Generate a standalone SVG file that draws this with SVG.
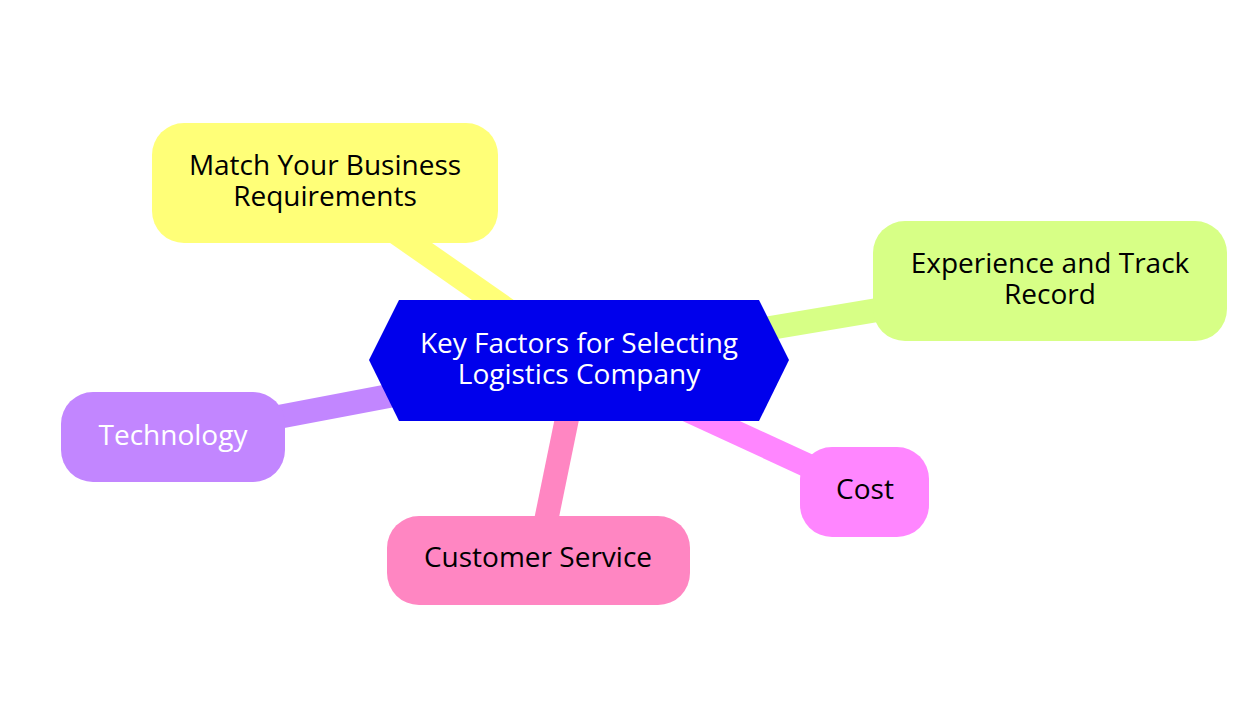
<svg xmlns="http://www.w3.org/2000/svg" width="1254" height="716" viewBox="0 0 1254 716">
<style>
  .edge { stroke-width: 24; stroke-linecap: butt; fill: none; }
  .lbl { font-family: "Open Sans", "Noto Sans", sans-serif; font-size: 28px; text-anchor: middle; fill: #000000; }
  .white { fill: #ffffff; }
</style>
<rect width="1254" height="716" fill="#ffffff"/>
<g id="connectors">
  <line class="edge" stroke="#FFFF78" x1="579" y1="360" x2="325" y2="183"/>
  <line class="edge" stroke="#D7FF86" x1="579" y1="360" x2="1050" y2="281"/>
  <line class="edge" stroke="#C286FF" x1="579" y1="360" x2="173" y2="437"/>
  <line class="edge" stroke="#FF86C2" x1="579" y1="360" x2="538" y2="560"/>
  <line class="edge" stroke="#FF86FF" x1="579" y1="360" x2="865" y2="492"/>
</g>
<g id="root">
  <polygon points="369,360 399,300 759,300 789,360 759,421 399,421" fill="#0000EC"/>
  <text class="lbl white" x="579" y="353">Key Factors for Selecting</text>
  <text class="lbl white" x="579" y="384">Logistics Company</text>
</g>
<g id="node-match">
  <rect x="152" y="123" width="346" height="120" rx="32" fill="#FFFF78"/>
  <text class="lbl" x="325" y="175">Match Your Business</text>
  <text class="lbl" x="325" y="206">Requirements</text>
</g>
<g id="node-experience">
  <rect x="873" y="221" width="354" height="120" rx="32" fill="#D7FF86"/>
  <text class="lbl" x="1050" y="273">Experience and Track</text>
  <text class="lbl" x="1050" y="304">Record</text>
</g>
<g id="node-technology">
  <rect x="61" y="392" width="224" height="90" rx="32" fill="#C286FF"/>
  <text class="lbl white" x="173" y="445">Technology</text>
</g>
<g id="node-customer">
  <rect x="387" y="516" width="303" height="89" rx="32" fill="#FF86C2"/>
  <text class="lbl" x="538" y="567">Customer Service</text>
</g>
<g id="node-cost">
  <rect x="800" y="447" width="129" height="90" rx="32" fill="#FF86FF"/>
  <text class="lbl" x="865" y="499">Cost</text>
</g>
</svg>
